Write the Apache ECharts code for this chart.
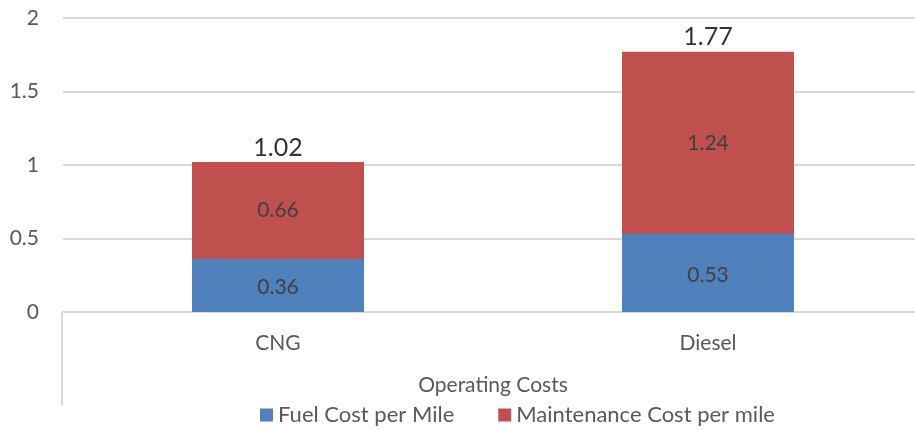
<!DOCTYPE html>
<html>
<head>
<meta charset="utf-8">
<script src="https://cdn.jsdelivr.net/npm/echarts@6/dist/echarts.min.js"></script>
<style>
  html, body { margin: 0; padding: 0; background: #fff; overflow: hidden; }
  /* 画布比窗口略宽，右侧被裁掉，与原图一致 */
  #main { width: 923px; height: 431px; }
</style>
</head>
<body>
<div id="main"></div>
<script>
// 数据
var categories = ['CNG', 'Diesel'];
var fuelCost = [0.36, 0.53];
var maintenanceCost = [0.66, 1.24];
var totals = [1.02, 1.77];
var seriesNames = ['Fuel Cost per Mile', 'Maintenance Cost per mile'];
var axisTitle = 'Operating Costs';

var font = 'Lato, "Open Sans", sans-serif';
var chart = echarts.init(document.getElementById('main'));

chart.setOption({
	animation: false,
	textStyle: { fontFamily: font },
	grid: { left: 63, right: 0, top: 18, bottom: 119 },
	legend: {
		data: seriesNames,
		left: 255,
		top: 399,
		itemWidth: 13,
		itemHeight: 13,
		itemGap: 44,
		icon: 'rect',
		textStyle: { fontSize: 22, color: '#595959', fontFamily: font }
	},
	xAxis: {
		type: 'category',
		data: categories,
		name: axisTitle,
		nameLocation: 'middle',
		nameGap: 63,
		nameTextStyle: { fontSize: 21, color: '#595959', fontFamily: font },
		axisLine: { lineStyle: { color: '#d9d9d9', width: 2 } },
		axisTick: { show: false },
		axisLabel: { fontSize: 21, color: '#595959', margin: 21, fontFamily: font }
	},
	yAxis: {
		type: 'value',
		min: 0,
		max: 2,
		interval: 0.5,
		axisLine: { show: false },
		axisTick: { show: false },
		axisLabel: { fontSize: 21, color: '#595959', margin: 24, fontFamily: font },
		splitLine: { lineStyle: { color: '#d9d9d9', width: 2 } }
	},
	graphic: [{
		type: 'line',
		shape: { x1: 62, y1: 312, x2: 62, y2: 405 },
		style: { stroke: '#d9d9d9', lineWidth: 2 }
	}],
	series: [
		{
			name: seriesNames[0],
			type: 'bar',
			stack: 'cost',
			data: fuelCost,
			barWidth: 172,
			itemStyle: { color: '#4f81bd' },
			label: { show: true, position: 'inside', offset: [0, 2], fontSize: 21, color: '#404040', fontFamily: font }
		},
		{
			name: seriesNames[1],
			type: 'bar',
			stack: 'cost',
			data: maintenanceCost,
			barWidth: 172,
			itemStyle: { color: '#c0504d' },
			label: { show: true, position: 'inside', fontSize: 21, color: '#404040', fontFamily: font }
		},
		{
			name: 'Total',
			type: 'scatter',
			data: totals,
			symbolSize: 0,
			silent: true,
			label: { show: true, position: 'top', distance: 2, fontSize: 25, color: '#000', fontFamily: font }
		}
	]
});
</script>
</body>
</html>
